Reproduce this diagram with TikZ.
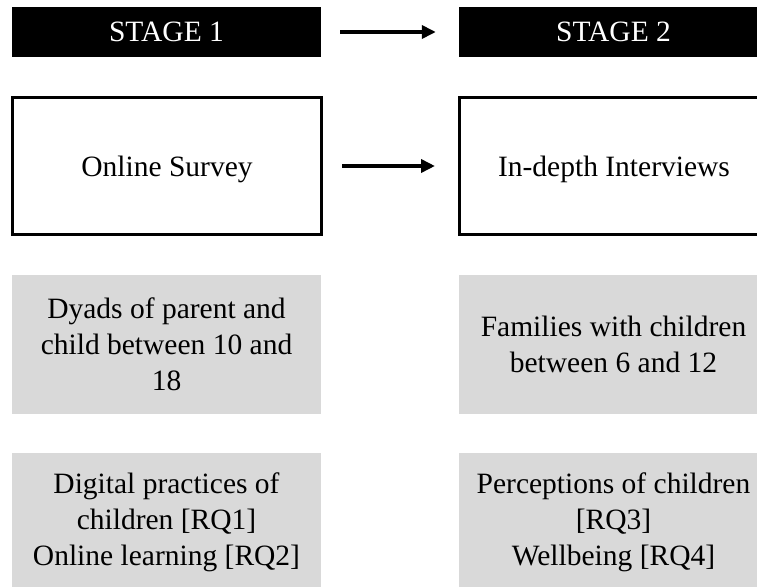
\documentclass[tikz,border=0pt]{standalone}
\usepackage{fontspec}
\setmainfont{Liberation Serif}
\usetikzlibrary{positioning,arrows.meta}
\definecolor{boxgray}{HTML}{D9D9D9}
\begin{document}
\begin{tikzpicture}[x=1pt, y=-1pt,
		font=\fontsize{29.5}{36}\selectfont,
		stagebox/.style={fill=black, text=white, minimum width=309pt, minimum height=50pt, inner sep=0pt},
		methodbox/.style={draw, line width=3pt, minimum width=309pt, minimum height=137pt, inner sep=0pt, text depth=0pt},
		infobox/.style={fill=boxgray, minimum width=309pt, minimum height=139pt, inner sep=0pt, align=center},
		stagearrow/.style={line width=4pt, -{Triangle[length=14pt,width=13pt]}, shorten <=19pt, shorten >=23pt}
		]
	\useasboundingbox (0,0) rectangle (757,586);
	\clip (0,0) rectangle (757,586);
	\node [stagebox] (s1) at (166.5,32) {STAGE 1};
	\node [stagebox] (s2) at (613.5,32) {STAGE 2};
	\node [methodbox] (m1) at (167,166) {Online Survey};
	\node [methodbox] (m2) at (614,166) {In-depth Interviews};
	\node [infobox] (p1) at (166.5,344) {Dyads of parent and\\child between 10 and\\18};
	\node [infobox] (p2) at (613.5,344) {Families with children\\between 6 and 12};
	\node [infobox] (q1) at (166.5,522.5) {Digital practices of\\children [RQ1]\\Online learning [RQ2]};
	\node [infobox] (q2) at (613.5,522.5) {Perceptions of children\\{[RQ3]}\\Wellbeing [RQ4]};
	\draw [stagearrow] (s1) -- (s2);
	\draw [stagearrow] (m1) -- (m2);
\end{tikzpicture}
\end{document}
